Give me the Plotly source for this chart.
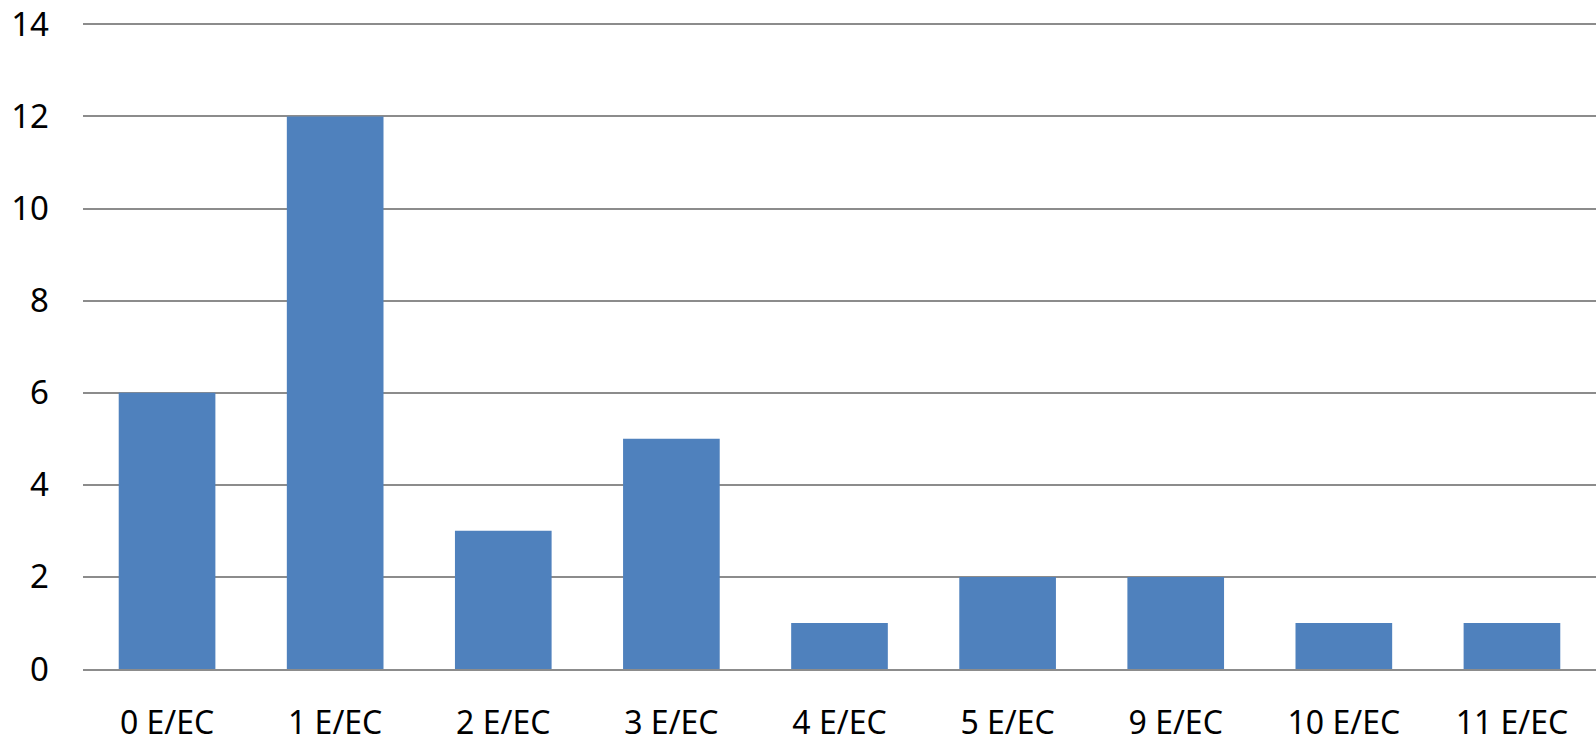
import plotly.graph_objects as go

categories = ["0 E/EC", "1 E/EC", "2 E/EC", "3 E/EC", "4 E/EC", "5 E/EC", "9 E/EC", "10 E/EC", "11 E/EC"]
values = [6, 12, 3, 5, 1, 2, 2, 1, 1]
y_ticks = [0, 2, 4, 6, 8, 10, 12, 14]

FONT = "Noto Sans"

fig = go.Figure(go.Bar(x=categories, y=values, marker=dict(color="#4F81BD", line=dict(width=0)), width=0.575))

fig.update_layout(
    width=1596, height=742,
    margin=dict(l=83, r=0, t=23, b=73),
    paper_bgcolor="white", plot_bgcolor="white",
    showlegend=False,
    font=dict(family=FONT, size=32, color="#000000"),
)
fig.update_yaxes(
    range=[0, 14.03], tickvals=y_ticks, showgrid=True, gridcolor="#8c8c8c", gridwidth=1.5,
    zeroline=False, showline=False, ticks="", ticklabelstandoff=33, automargin=False,
    ticklabeloverflow="allow",
    tickfont=dict(family=FONT, size=33, color="#000000"),
)
fig.update_xaxes(
    showline=True, linecolor="#8c8c8c", linewidth=1.5, ticks="", ticklabelstandoff=25, automargin=False,
    ticklabeloverflow="allow",
    tickfont=dict(family=FONT, size=32, color="#000000"),
)

fig.write_html(
    "out.html",
    config={"displayModeBar": False},
    post_script="document.body.style.margin='0';document.body.style.overflow='hidden';",
)
